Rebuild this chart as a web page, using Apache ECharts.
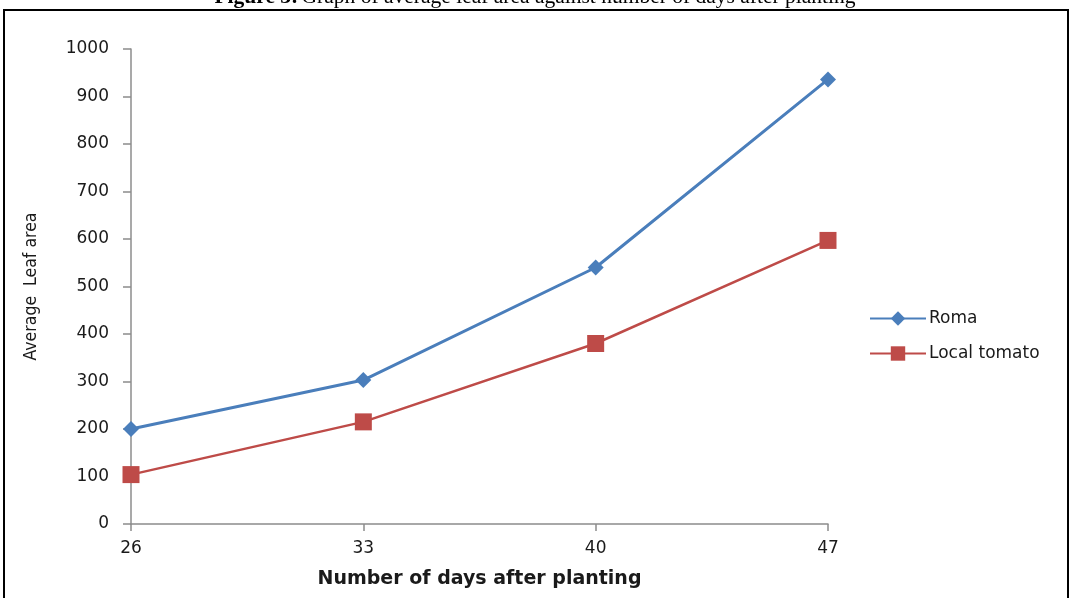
<!DOCTYPE html>
<html>
<head>
<meta charset="utf-8">
<script src="https://cdn.jsdelivr.net/npm/echarts@6/dist/echarts.min.js"></script>
<style>
  html, body { margin: 0; padding: 0; background: #fff; }
  #chart { width: 1070px; height: 598px; }
</style>
</head>
<body>
<div id="chart"></div>
<script>
// Days after planting (x categories)
const days = ['26', '33', '40', '47'];
// Average leaf area per variety
const romaValues = [200, 303, 540, 936];
const localTomatoValues = [104, 215, 380, 597];
// Y axis range
const yMin = 0, yMax = 1000, yStep = 100;

const chart = echarts.init(document.getElementById('chart'), null, { renderer: 'canvas' });

const labelFont = { fontFamily: 'DejaVu Sans', fontSize: 17, color: '#1a1a1a' };
const axisGray = '#8c8c8c';

chart.setOption({
  animation: false,
  backgroundColor: '#ffffff',
  graphic: [
    {
      type: 'rect',
      shape: { x: 4, y: 10, width: 1064, height: 600 },
      style: { fill: 'none', stroke: '#000', lineWidth: 2 }
    },
    {
      type: 'text',
      left: 'center',
      top: -14,
      style: {
        rich: {
          b: { fontFamily: 'Liberation Serif', fontSize: 21.5, fontWeight: 'bold', fill: '#000' },
          n: { fontFamily: 'Liberation Serif', fontSize: 21.5, fill: '#000' }
        },
        text: '{b|Figure 3:} {n|Graph of average leaf area against number of days after planting}'
      }
    }
  ],
  grid: { left: 131, right: 242, top: 49, bottom: 74, containLabel: false, outerBoundsMode: 'none' },
  legend: {
    orient: 'vertical',
    left: 864,
    top: 305,
    itemWidth: 56,
    itemHeight: 18,
    itemGap: 18,
    textStyle: { fontFamily: 'DejaVu Sans', fontSize: 17, color: '#1a1a1a', padding: [0, 0, 0, -2] },
    data: ['Roma', 'Local tomato']
  },
  xAxis: {
    type: 'category',
    data: days,
    boundaryGap: false,
    name: 'Number of days after planting',
    nameLocation: 'middle',
    nameGap: 46,
    nameTextStyle: { fontFamily: 'DejaVu Sans', fontSize: 19, fontWeight: 'bold', color: '#1a1a1a' },
    axisLine: { lineStyle: { color: axisGray, width: 1.5 } },
    axisTick: { show: true, alignWithLabel: true, length: 7, inside: false, lineStyle: { color: axisGray, width: 1.5 } },
    axisLabel: Object.assign({ margin: 16 }, labelFont),
    splitLine: { show: false }
  },
  yAxis: {
    type: 'value',
    min: yMin,
    max: yMax,
    interval: yStep,
    name: 'Average  Leaf area',
    nameLocation: 'middle',
    nameGap: 91,
    nameTextStyle: { fontFamily: 'DejaVu Sans Condensed', fontSize: 17.5, color: '#1a1a1a' },
    axisLine: { show: true, lineStyle: { color: axisGray, width: 1.5 } },
    axisTick: { show: true, length: 8, lineStyle: { color: axisGray, width: 1.5 } },
    axisLabel: Object.assign({ margin: 22, formatter: (v) => String(v) }, labelFont),
    splitLine: { show: false }
  },
  series: [
    {
      name: 'Roma',
      type: 'line',
      data: romaValues,
      symbol: 'diamond',
      symbolSize: 16,
      lineStyle: { color: '#4a7ebb', width: 3 },
      itemStyle: { color: '#4a7ebb' }
    },
    {
      name: 'Local tomato',
      type: 'line',
      data: localTomatoValues,
      symbol: 'rect',
      symbolSize: 17,
      lineStyle: { color: '#be4b48', width: 2.5 },
      itemStyle: { color: '#be4b48' }
    }
  ]
});
</script>
</body>
</html>
